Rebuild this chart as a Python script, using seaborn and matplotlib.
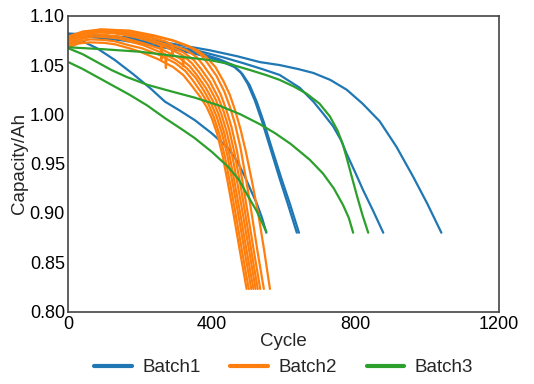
import matplotlib
matplotlib.use("Agg")
import matplotlib.pyplot as plt
import seaborn as sns
import pandas as pd

# ---------------- data ----------------
batches = ["Batch1", "Batch2", "Batch3"]

batch1_cycles = [
    [0, 40, 80, 130, 180, 230, 269, 310, 353, 399, 445, 470, 492, 510, 525, 540, 552],
    [0, 50, 150, 250, 320, 367, 420, 459, 480, 500, 520, 540, 562, 589, 612, 637],
    [0, 50, 150, 250, 320, 370, 424, 463, 485, 505, 525, 545, 567, 594, 618, 643],
    [0, 50, 150, 250, 367, 430, 487, 540, 589, 645, 683, 710, 738, 760, 776, 800, 822, 850, 878],
    [0, 50, 130, 208, 300, 394, 470, 534, 589, 640, 683, 730, 776, 820, 868, 915, 961, 1000, 1040],
]
batch1_capacity = [
    [1.072, 1.074, 1.067, 1.055, 1.041, 1.026, 1.013, 1.004, 0.994, 0.981, 0.966, 0.953, 0.937, 0.922, 0.910, 0.895, 0.880],
    [1.080, 1.081, 1.077, 1.071, 1.066, 1.062, 1.056, 1.050, 1.043, 1.031, 1.014, 0.993, 0.967, 0.935, 0.909, 0.880],
    [1.078, 1.079, 1.075, 1.069, 1.064, 1.060, 1.054, 1.048, 1.041, 1.030, 1.013, 0.992, 0.966, 0.935, 0.909, 0.880],
    [1.081, 1.082, 1.078, 1.072, 1.064, 1.058, 1.052, 1.046, 1.040, 1.027, 1.013, 1.001, 0.988, 0.974, 0.960, 0.941, 0.923, 0.902, 0.880],
    [1.082, 1.081, 1.079, 1.077, 1.071, 1.065, 1.059, 1.053, 1.050, 1.046, 1.042, 1.035, 1.025, 1.011, 0.993, 0.967, 0.937, 0.910, 0.880],
]

batch2_cycles = [
    [0, 30, 60, 100, 130, 170, 200, 250, 292, 320, 340, 365, 385, 400, 415, 430, 445, 460, 478, 497],
    [0, 30, 60, 100, 130, 170, 205, 255, 298, 326, 346, 371, 391, 406, 421, 436, 451, 466, 484, 503],
    [0, 30, 70, 100, 140, 180, 210, 250, 270, 272, 274, 300, 330, 355, 378, 398, 413, 428, 443, 458, 473, 491, 510],
    [0, 30, 70, 100, 140, 180, 210, 260, 310, 338, 358, 383, 404, 419, 434, 449, 464, 479, 497, 516],
    [0, 40, 80, 120, 150, 190, 220, 258, 260, 262, 290, 318, 320, 322, 344, 364, 389, 411, 426, 441, 456, 471, 486, 504, 522],
    [0, 40, 80, 120, 150, 190, 220, 270, 320, 350, 370, 395, 418, 433, 448, 463, 478, 493, 510, 528],
    [0, 40, 80, 120, 160, 200, 230, 270, 288, 290, 292, 330, 358, 378, 403, 425, 440, 455, 470, 485, 500, 517, 535],
    [0, 40, 90, 130, 170, 210, 240, 290, 340, 368, 388, 413, 435, 450, 465, 480, 495, 510, 527, 545],
    [0, 40, 90, 130, 170, 240, 292, 330, 360, 385, 410, 432, 450, 465, 480, 495, 512, 530, 546, 562],
]
batch2_capacity = [
    [1.068, 1.072, 1.073, 1.0725, 1.071, 1.067, 1.0635, 1.056, 1.048, 1.040, 1.031, 1.019, 1.008, 0.996, 0.980, 0.958, 0.930, 0.900, 0.862, 0.823],
    [1.070, 1.074, 1.076, 1.0755, 1.074, 1.070, 1.067, 1.060, 1.052, 1.044, 1.035, 1.022, 1.010, 0.997, 0.980, 0.958, 0.930, 0.900, 0.862, 0.823],
    [1.072, 1.076, 1.079, 1.0785, 1.077, 1.073, 1.070, 1.064, 1.061, 1.047, 1.060, 1.055, 1.047, 1.037, 1.024, 1.011, 0.998, 0.981, 0.959, 0.930, 0.900, 0.862, 0.823],
    [1.074, 1.078, 1.081, 1.0805, 1.079, 1.075, 1.072, 1.066, 1.057, 1.049, 1.040, 1.027, 1.013, 1.000, 0.982, 0.959, 0.930, 0.900, 0.862, 0.823],
    [1.075, 1.080, 1.083, 1.0825, 1.081, 1.078, 1.075, 1.070, 1.056, 1.070, 1.065, 1.060, 1.049, 1.059, 1.052, 1.043, 1.030, 1.015, 1.001, 0.983, 0.960, 0.931, 0.900, 0.862, 0.823],
    [1.076, 1.081, 1.084, 1.0835, 1.082, 1.080, 1.077, 1.071, 1.063, 1.055, 1.046, 1.033, 1.017, 1.003, 0.985, 0.961, 0.932, 0.900, 0.862, 0.823],
    [1.077, 1.082, 1.085, 1.0845, 1.083, 1.080, 1.078, 1.074, 1.071, 1.058, 1.070, 1.065, 1.058, 1.049, 1.036, 1.020, 1.005, 0.987, 0.963, 0.933, 0.900, 0.862, 0.823],
    [1.078, 1.083, 1.086, 1.0855, 1.084, 1.081, 1.079, 1.075, 1.068, 1.061, 1.052, 1.039, 1.023, 1.008, 0.990, 0.966, 0.935, 0.902, 0.862, 0.823],
    [1.079, 1.084, 1.086, 1.0855, 1.085, 1.080, 1.075, 1.070, 1.065, 1.058, 1.048, 1.034, 1.020, 1.004, 0.985, 0.962, 0.932, 0.898, 0.862, 0.823],
]

batch3_cycles = [
    [0, 40, 80, 120, 170, 220, 270, 320, 352, 400, 445, 475, 501, 525, 552],
    [0, 40, 80, 120, 162, 220, 290, 352, 420, 480, 534, 576, 620, 673, 710, 740, 766, 782, 794],
    [0, 100, 200, 300, 395, 450, 506, 550, 589, 630, 664, 700, 729, 750, 765, 776, 790, 805, 820, 836],
]
batch3_capacity = [
    [1.053, 1.046, 1.038, 1.030, 1.020, 1.009, 0.996, 0.984, 0.976, 0.962, 0.947, 0.934, 0.917, 0.902, 0.881],
    [1.067, 1.061, 1.053, 1.045, 1.038, 1.030, 1.023, 1.017, 1.009, 1.000, 0.990, 0.981, 0.970, 0.954, 0.940, 0.925, 0.908, 0.895, 0.880],
    [1.068, 1.066, 1.0635, 1.059, 1.055, 1.051, 1.045, 1.040, 1.035, 1.028, 1.021, 1.011, 0.998, 0.984, 0.970, 0.956, 0.937, 0.917, 0.898, 0.880],
]

x_ticks = [0, 400, 800, 1200]
y_ticks = [0.80, 0.85, 0.90, 0.95, 1.00, 1.05, 1.10]

# ---------------- build long-form table ----------------
rows = []
for name, cyc_list, cap_list in zip(batches,
                                    [batch1_cycles, batch2_cycles, batch3_cycles],
                                    [batch1_capacity, batch2_capacity, batch3_capacity]):
    for k, (cs, vs) in enumerate(zip(cyc_list, cap_list)):
        for c, v in zip(cs, vs):
            rows.append({"cycle": c, "capacity": v, "batch": name, "cell": f"{name}_{k}"})
df = pd.DataFrame(rows)

# ---------------- plot ----------------
sns.set_theme(style="white")
plt.rcParams["font.family"] = ["Liberation Sans", "DejaVu Sans"]
FS = 13.5

fig = plt.figure(figsize=(5.34, 3.84), dpi=100)
ax = fig.add_axes([0.128, 0.1885, 0.806, 0.7705])

sns.lineplot(data=df, x="cycle", y="capacity", hue="batch", units="cell",
             estimator=None, sort=False, hue_order=batches,
             palette=["#1f77b4", "#ff7f0e", "#2ca02c"], linewidth=1.6, ax=ax)

ax.set_xlim(0, 1200)
ax.set_ylim(0.80, 1.10)
ax.set_xticks(x_ticks)
ax.set_yticks(y_ticks)
ax.set_yticklabels([f"{t:.2f}" for t in y_ticks])
ax.tick_params(direction="in", length=4, width=1, colors="#333333",
               labelcolor="black", labelsize=13)
ax.tick_params(axis="x", pad=3)
ax.tick_params(axis="y", pad=2.5)
for s in ax.spines.values():
    s.set_color("#444444")
    s.set_linewidth(1.2)
    s.set_visible(True)

ax.set_xlabel("Cycle", fontsize=FS, labelpad=0)
ax.set_ylabel("Capacity/Ah", fontsize=FS, labelpad=1)

h, l = ax.get_legend_handles_labels()
leg = ax.legend(h, l, ncol=3, loc="center", bbox_to_anchor=(0.5, -0.19),
                frameon=False, handlelength=2.0, handletextpad=0.55,
                columnspacing=1.6, fontsize=FS)
for line in leg.get_lines():
    line.set_linewidth(3)

fig.savefig("out.png", dpi=100)
